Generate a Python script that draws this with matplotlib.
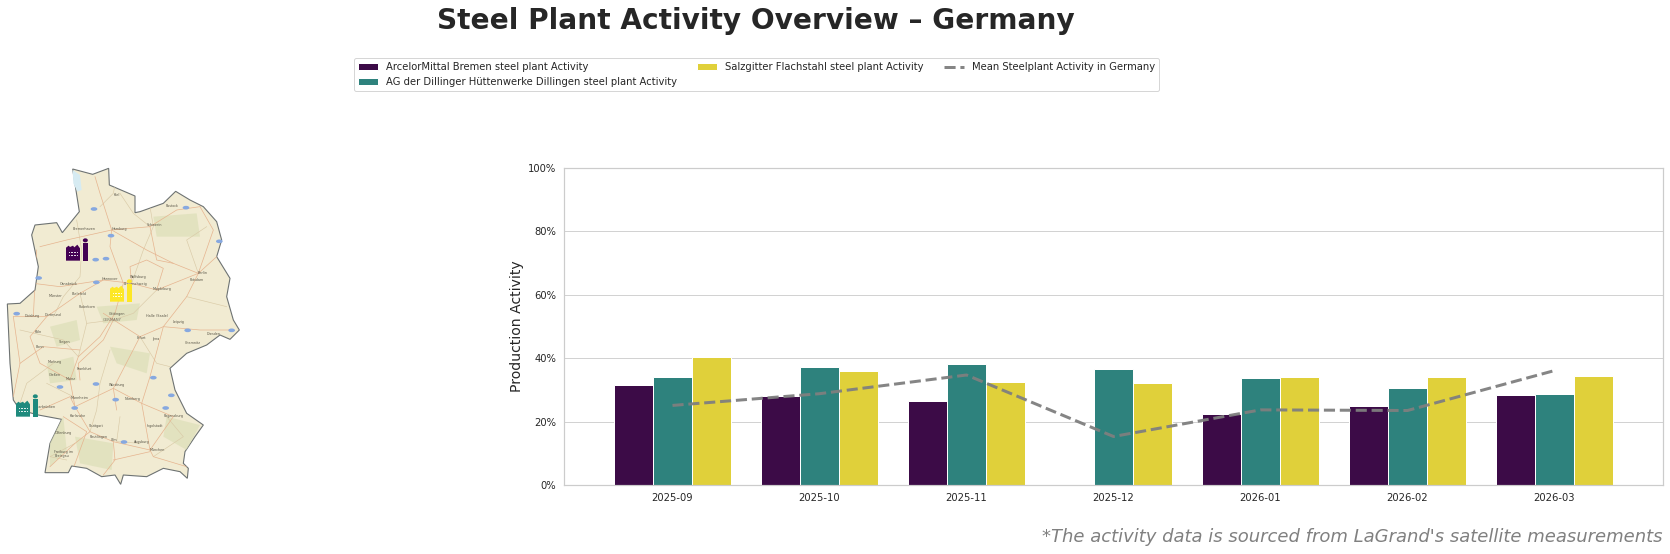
import matplotlib
matplotlib.use('Agg')
import matplotlib.pyplot as plt
from matplotlib.patches import Polygon, Rectangle, Ellipse
import numpy as np

# chart values
months = ['2025-09', '2025-10', '2025-11', '2025-12', '2026-01', '2026-02', '2026-03']
bremen = [31.5, 28.0, 26.4, 0, 22.3, 24.8, 28.3]
dillingen = [34.1, 37.1, 38.1, 36.5, 33.7, 30.5, 28.6]
salzgitter = [40.4, 35.9, 32.4, 32.1, 34.0, 34.0, 34.4]
mean_activity = [25.1, 28.8, 34.7, 15.3, 23.7, 23.5, 36.1]

series_names = ['ArcelorMittal Bremen steel plant Activity',
                'AG der Dillinger Hüttenwerke Dillingen steel plant Activity',
                'Salzgitter Flachstahl steel plant Activity']
mean_name = 'Mean Steelplant Activity in Germany'
bar_colors = ['#3c0b47', '#2e827d', '#e0d03a']
plant_colors = ['#440154', '#1f8a7d', '#fde725']

# map shapes
germany = [(218, 57), (278, 73), (326, 55), (328, 105), (405, 138), (405, 188), (420, 185), (490, 160),
           (527, 124), (570, 150), (610, 170), (650, 215), (665, 270), (650, 320), (690, 385), (680, 440),
           (700, 510), (718, 540), (690, 568), (660, 555), (620, 585), (560, 610), (510, 655), (525, 720),
           (560, 790), (610, 825), (585, 860), (555, 905), (550, 940), (565, 955), (562, 985), (540, 965),
           (490, 955), (440, 980), (370, 975), (362, 1003), (345, 975), (305, 980), (260, 955), (215, 948),
           (205, 968), (135, 968), (150, 880), (185, 808), (115, 795), (60, 780), (40, 750), (30, 640),
           (22, 462), (60, 460), (105, 420), (115, 350), (95, 255), (105, 225), (170, 218), (187, 248),
           (238, 185)]
water = [(218, 60), (240, 75), (245, 120), (232, 125), (220, 100)]
green_areas = [[(150, 530), (230, 510), (240, 570), (170, 590)],
               [(290, 470), (420, 460), (410, 510), (310, 520)],
               [(330, 590), (450, 610), (440, 670), (350, 640)],
               [(140, 640), (220, 620), (230, 690), (150, 700)],
               [(150, 850), (190, 800), (200, 900), (150, 950)],
               [(500, 800), (600, 825), (560, 900), (490, 860)],
               [(460, 200), (590, 190), (600, 260), (470, 260)],
               [(225, 860), (340, 880), (335, 960), (240, 940)]]
roads = [[(285, 80), (300, 130), (335, 240), (330, 290), (370, 400), (345, 490), (300, 560), (235, 620),
          (210, 690), (225, 770), (270, 845), (340, 875), (450, 900)],
         [(120, 290), (200, 270), (335, 240), (450, 230), (530, 180), (600, 170)],
         [(335, 240), (440, 300), (520, 340), (595, 370), (650, 320)],
         [(100, 400), (180, 410), (310, 390), (395, 400), (470, 420), (595, 370)],
         [(40, 500), (140, 500), (240, 430), (310, 390)],
         [(140, 500), (90, 560), (120, 640), (210, 690)],
         [(310, 490), (420, 560), (490, 530), (600, 540), (700, 540)],
         [(595, 370), (560, 440), (490, 530), (450, 680), (425, 760), (450, 900)],
         [(225, 770), (340, 715), (425, 760), (520, 800), (450, 900)],
         [(190, 800), (260, 845), (240, 900), (220, 955)],
         [(340, 875), (345, 930), (310, 975)],
         [(450, 900), (460, 920), (560, 950)],
         [(340, 930), (450, 905)],
         [(150, 950), (225, 880), (270, 845)],
         [(395, 400), (390, 350), (440, 330), (490, 355), (470, 420)],
         [(340, 510), (310, 570), (235, 640), (240, 690)],
         [(100, 500), (110, 300)],
         [(60, 640), (130, 590), (240, 600)],
         [(420, 560), (340, 715), (350, 780)],
         [(450, 230), (470, 330), (520, 340)],
         [(600, 170), (640, 240), (595, 370)],
         [(40, 500), (60, 640), (40, 740)],
         [(120, 780), (210, 740), (225, 770)]]
minor_roads = [[(230, 210), (245, 300), (240, 380), (190, 440), (160, 500)],
               [(360, 130), (400, 190), (450, 230)],
               [(300, 170), (340, 130), (350, 80)],
               [(450, 170), (460, 230), (430, 300), (395, 400)],
               [(620, 230), (560, 270), (595, 370)],
               [(560, 440), (680, 470)],
               [(240, 430), (260, 520), (340, 510), (400, 490), (470, 420)],
               [(260, 520), (235, 620)],
               [(420, 560), (470, 640), (510, 650)],
               [(330, 600), (300, 700), (290, 780), (270, 845)],
               [(360, 800), (350, 875), (420, 880)],
               [(500, 800), (550, 860), (460, 920)],
               [(160, 640), (80, 700), (60, 760)],
               [(140, 700), (220, 740)],
               [(60, 540), (190, 570), (235, 620)],
               [(200, 930), (150, 920), (225, 880)]]
badges = [(282, 177), (558, 173), (333, 257), (658, 274), (287, 329), (318, 326), (116, 384), (289, 397),
          (50, 491), (563, 541), (695, 541), (460, 683), (180, 711), (288, 702), (514, 736), (347, 749),
          (224, 774), (497, 774), (372, 876)]
cities = [('Rostock', 515, 167), ('Kiel', 350, 134), ('Hamburg', 357, 237), ('Bremerhaven', 252, 238),
          ('Schwerin', 462, 226), ('Berlin', 609, 369), ('Potsdam', 590, 391), ('Hannover', 330, 387),
          ('Wolfsburg', 416, 381), ('Braunschweig', 405, 402), ('Magdeburg', 485, 418), ('Münster', 165, 439),
          ('Osnabrück', 205, 401), ('Bielefeld', 238, 432), ('Duisburg', 95, 499), ('Dortmund', 160, 495),
          ('Paderborn', 260, 470), ('Göttingen', 350, 493), ('Halle (Saale)', 470, 498), ('Leipzig', 534, 517),
          ('Dresden', 640, 552), ('Chemnitz', 578, 578), ('Erfurt', 424, 563), ('Jena', 467, 568),
          ('Köln', 115, 546), ('Bonn', 120, 592), ('Siegen', 195, 575), ('Marburg', 163, 636),
          ('Gießen', 165, 675), ('Frankfurt', 252, 657), ('Mainz', 212, 688), ('Mannheim', 238, 743),
          ('Würzburg', 350, 706), ('Nürnberg', 396, 746), ('Regensburg', 522, 799), ('Karlsruhe', 232, 799),
          ('Stuttgart', 290, 828), ('Ingolstadt', 464, 828), ('Reutlingen', 295, 860), ('Augsburg', 424, 876),
          ('Ulm', 342, 871), ('München', 473, 901), ('Offenburg', 190, 850), ('Freiburg im', 190, 907),
          ('Breisgau', 186, 918), ('Saarbrücken', 135, 772)]
plants = [(198, 265), (48, 733), (330, 388)]


def draw_factory(ax, x0, y0, color):
    # building with saw-tooth roof plus a chimney, 67 map units square
    roof = [(x0, y0 + 67), (x0, y0 + 28), (x0 + 8, y0 + 22), (x0 + 12, y0 + 26), (x0 + 21, y0 + 22),
            (x0 + 25, y0 + 27), (x0 + 34, y0 + 19), (x0 + 42, y0 + 30), (x0 + 42, y0 + 67)]
    ax.add_patch(Polygon(roof, closed=True, facecolor=color, edgecolor='none', zorder=5))
    ax.add_patch(Rectangle((x0 + 50, y0 + 13), 17, 54, facecolor=color, edgecolor='none', zorder=5))
    ax.add_patch(Ellipse((x0 + 58, y0 + 6), 15, 12, facecolor=color, edgecolor='none', zorder=5))
    for wx in (8, 16, 25, 33):
        for wy in (40, 50):
            ax.add_patch(Rectangle((x0 + wx, y0 + wy), 3.5, 4, facecolor='white', alpha=0.85,
                                   edgecolor='none', zorder=6))


def draw_map(ax):
    ax.set_xlim(0, 720)
    ax.set_ylim(1050, 0)
    ax.axis('off')
    outline = Polygon(germany, closed=True, facecolor='#f1ebd2', edgecolor='#6d7272', linewidth=1.1, zorder=1)
    ax.add_patch(outline)
    for area in green_areas:
        patch = Polygon(area, closed=True, facecolor='#dcdfb8', edgecolor='none', alpha=0.7, zorder=1.5)
        ax.add_patch(patch)
        patch.set_clip_path(outline)
    ax.add_patch(Polygon(water, closed=True, facecolor='#d6ebf2', edgecolor='none', zorder=1.6))
    for road in minor_roads:
        xs, ys = zip(*road)
        line, = ax.plot(xs, ys, color='#d9c9a6', linewidth=0.6, zorder=1.8)
        line.set_clip_path(outline)
    for road in roads:
        xs, ys = zip(*road)
        line, = ax.plot(xs, ys, color='#e6b48f', linewidth=0.7, zorder=2)
        line.set_clip_path(outline)
    for bx, by in badges:
        ax.add_patch(Ellipse((bx, by), 20, 11, facecolor='#86a8e0', edgecolor='none', zorder=3))
    for name, cx, cy in cities:
        ax.text(cx, cy, name, fontsize=3.4, color='#5a5648', ha='center', va='center', zorder=4)
    ax.text(336, 510, 'GERMANY', fontsize=3.8, color='#7a7668', ha='center', va='center', zorder=4)
    for (px, py), color in zip(plants, plant_colors):
        draw_factory(ax, px, py, color)


W, H = 1670, 554
fig = plt.figure(figsize=(W / 72, H / 72), dpi=72)

map_ax = fig.add_axes([0, 1 - 500 / H, 240 / W, 350 / H])
draw_map(map_ax)

left, right, top, bottom = 564, 1663, 168, 485
ax = fig.add_axes([left / W, 1 - bottom / H, (right - left) / W, (bottom - top) / H])

x = np.arange(len(months))
bar_w = 0.8 / 3
bar_handles = []
for i, (vals, name) in enumerate(zip([bremen, dillingen, salzgitter], series_names)):
    bars = ax.bar(x + (i - 1) * bar_w, vals, width=bar_w, color=bar_colors[i], edgecolor='white',
                  linewidth=1, label=name, zorder=2)
    bar_handles.append(bars)
mean_line, = ax.plot(x, mean_activity, color='#7f7f7f', linestyle='--', linewidth=3, alpha=0.95,
                     label=mean_name, zorder=3)

ax.set_xlim((left - 672.5) / 147, (right - 672.5) / 147)
ax.set_ylim(0, 100)
ax.set_xticks(x)
ax.set_xticklabels(months)
ax.set_yticks(range(0, 101, 20))
ax.set_yticklabels([f'{v}%' for v in range(0, 101, 20)])
ax.tick_params(length=0, labelsize=10, labelcolor='#262626', pad=8)
ax.grid(axis='y', color='#d2d2d2', linewidth=1)
ax.set_axisbelow(True)
for spine in ax.spines.values():
    spine.set_color('#cccccc')
    spine.set_linewidth(1.2)
ax.set_ylabel('Production Activity', fontsize=14, color='#262626')
ax.yaxis.set_label_coords((524 - left) / (right - left), 0.5)

fig.legend(bar_handles + [mean_line], series_names + [mean_name], loc='upper left',
           bbox_to_anchor=(354 / W, 1 - 58 / H), ncol=3, fontsize=10, frameon=True, edgecolor='#cccccc',
           labelcolor='#262626', borderaxespad=0)

fig.text(756 / W, 1 - 29 / H, 'Steel Plant Activity Overview – Germany', fontsize=28, fontweight='bold',
         color='#262626', ha='center', va='baseline')
fig.text(1662 / W, 1 - 542 / H, "*The activity data is sourced from LaGrand's satellite measurements",
         fontsize=18, style='italic', color='#808080', ha='right', va='baseline')

fig.savefig('out.png', dpi=72)
